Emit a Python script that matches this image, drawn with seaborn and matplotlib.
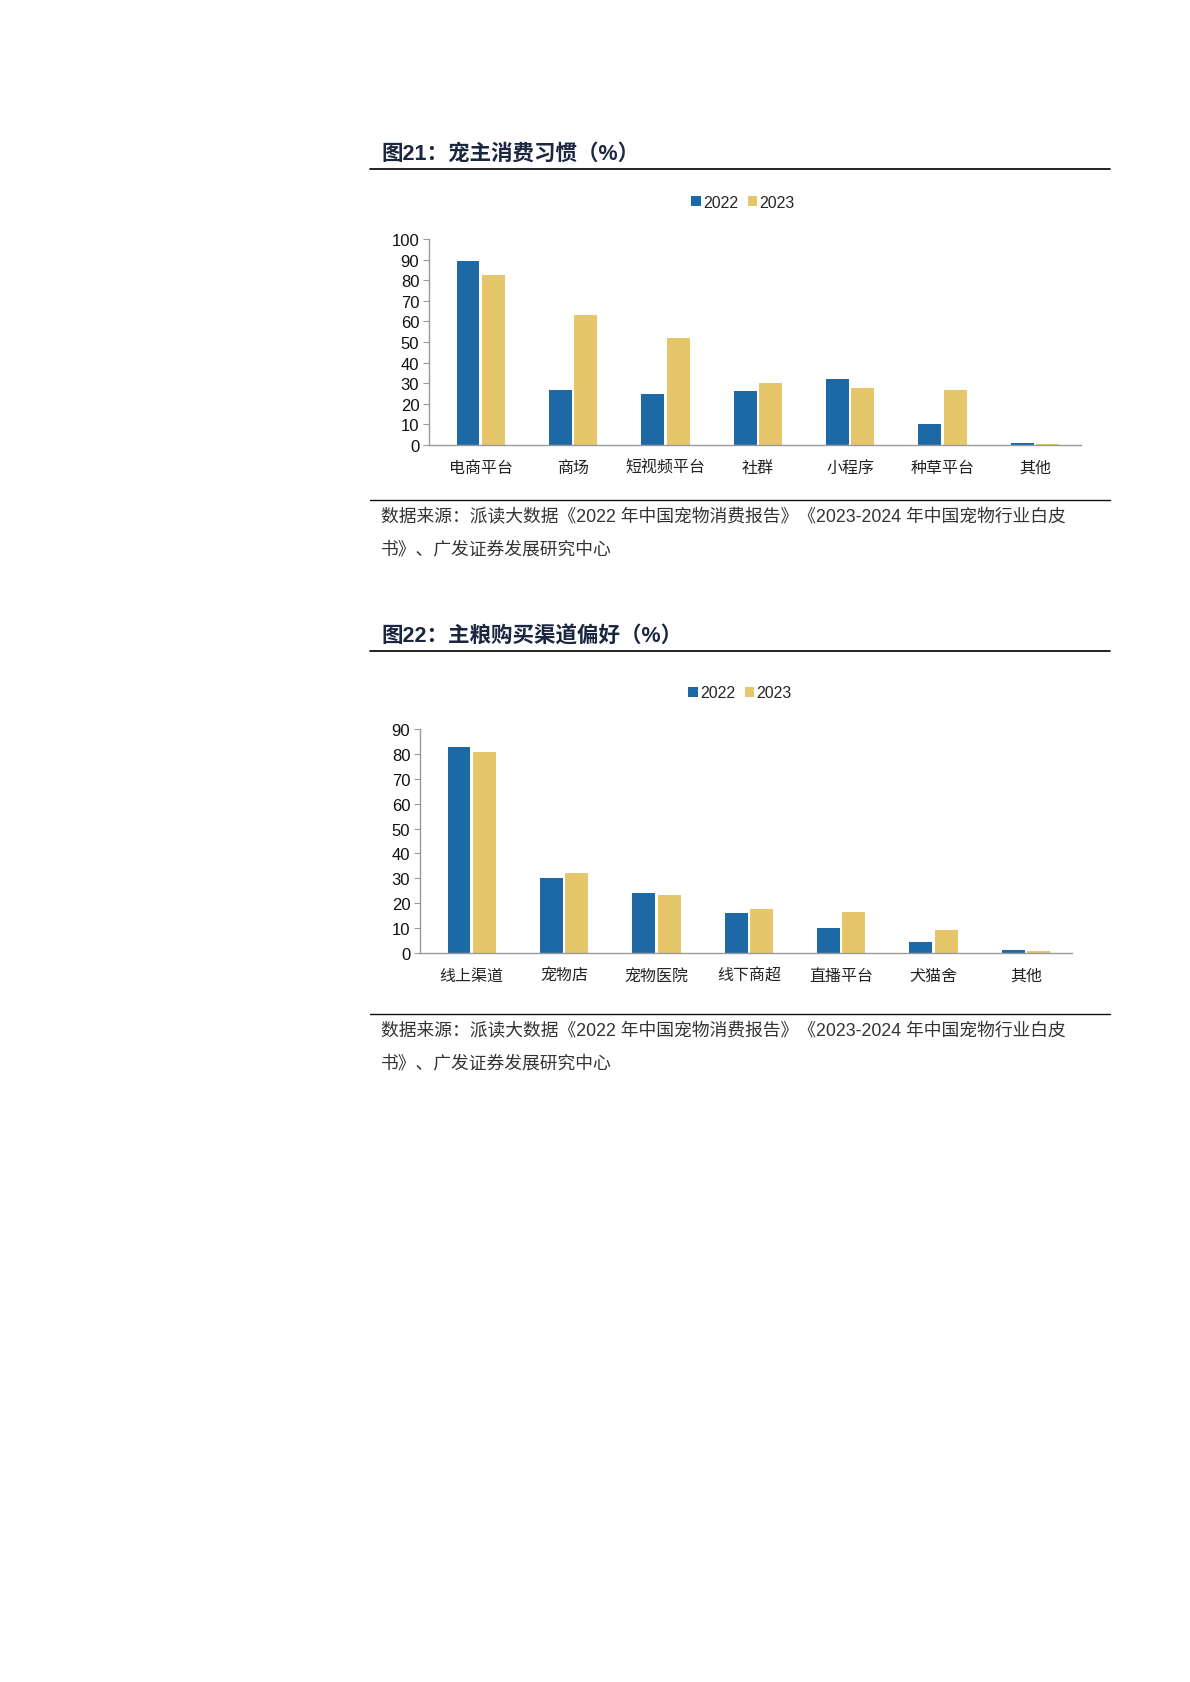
import matplotlib
matplotlib.use("Agg")
import matplotlib.pyplot as plt
import seaborn as sns
import pandas as pd
from matplotlib.lines import Line2D
from matplotlib.patches import Patch

# ---------------- data ----------------
years = ["2022", "2023"]

cats1 = ["电商平台", "商场", "短视频平台", "社群", "小程序", "种草平台", "其他"]
vals1_2022 = [89.5, 26.5, 25.0, 26.0, 32.0, 10.4, 1.1]
vals1_2023 = [82.7, 63.1, 51.8, 30.2, 27.7, 26.8, 0.5]

cats2 = ["线上渠道", "宠物店", "宠物医院", "线下商超", "直播平台", "犬猫舍", "其他"]
vals2_2022 = [82.9, 30.3, 24.0, 15.9, 10.0, 4.6, 1.3]
vals2_2023 = [80.9, 32.0, 23.4, 17.5, 16.3, 9.4, 0.7]

title1 = "图21：宠主消费习惯（%）"
title2 = "图22：主粮购买渠道偏好（%）"
source_l1 = "数据来源：派读大数据《2022 年中国宠物消费报告》《2023-2024 年中国宠物行业白皮"
source_l2 = "书》、广发证券发展研究中心"

yticks1 = [0, 10, 20, 30, 40, 50, 60, 70, 80, 90, 100]
yticks2 = [0, 10, 20, 30, 40, 50, 60, 70, 80, 90]

colors = {"2022": "#1C69A6", "2023": "#E5C66A"}

# ---------------- style ----------------
sns.set_theme(style="white")
plt.rcParams["font.family"] = ["Liberation Sans", "Noto Sans CJK SC", "DejaVu Sans"]
CJK = ["Noto Sans CJK SC", "DejaVu Sans"]
MIX = ["Liberation Sans", "Noto Sans CJK SC", "DejaVu Sans"]

W, H = 1190, 1683
fig = plt.figure(figsize=(W / 100, H / 100), dpi=100)
fig.patch.set_facecolor("white")


def fx(px):
    return px / W


def fy(py):
    return 1 - py / H


def make_df(cats, v22, v23):
    rows = []
    for c, a, b in zip(cats, v22, v23):
        rows.append({"cat": c, "year": "2022", "val": a})
        rows.append({"cat": c, "year": "2023", "val": b})
    return pd.DataFrame(rows)


def draw_panel(cats, v22, v23, yticks, ymax, box, title, title_y, line_y,
               legend_xy, sep_y, src_y1, src_y2):
    left, right, top, bottom = box
    ax = fig.add_axes([fx(left), fy(bottom), fx(right - left), (bottom - top) / H])
    df = make_df(cats, v22, v23)
    sns.barplot(data=df, x="cat", y="val", hue="year", hue_order=years,
                palette=colors, width=0.55, gap=0.1, saturation=1,
                edgecolor="none", linewidth=0, ax=ax, legend=False)
    ax.set_xlim(-0.56, 6.5)
    ax.set_ylim(0, ymax)
    ax.set_yticks(yticks)
    ax.set_xlabel("")
    ax.set_ylabel("")
    for s in ["top", "right"]:
        ax.spines[s].set_visible(False)
    for s in ["left", "bottom"]:
        ax.spines[s].set_color("#9a9a9a")
        ax.spines[s].set_linewidth(1.0)
    ax.tick_params(axis="y", length=4, width=0.8, color="#9a9a9a",
                   labelsize=12, pad=3, left=True, direction="out")
    ax.tick_params(axis="x", length=0, pad=10)
    ax.set_xticks(range(len(cats)))
    ax.set_xticklabels(cats, fontfamily=CJK, fontsize=11.5, color="#222222")
    for lab in ax.get_yticklabels():
        lab.set_fontfamily(MIX)
        lab.set_color("#111111")
    ax.patch.set_alpha(0)

    # legend
    handles = [Patch(facecolor=colors[y], edgecolor="none", label=y) for y in years]
    fig.legend(handles=handles, loc="center",
               bbox_to_anchor=(fx(legend_xy[0]), fy(legend_xy[1])),
               ncol=2, frameon=False, handlelength=0.6,
               handleheight=0.6, handletextpad=0.15, columnspacing=0.6,
               prop={"family": MIX, "size": 11.5})

    # title + rules
    fig.text(fx(381), fy(title_y), title, fontsize=15.5, fontweight="heavy",
             color="#1b2740", fontfamily=MIX, va="center", ha="left")
    fig.add_artist(Line2D([fx(370), fx(1110)], [fy(line_y), fy(line_y)],
                          color="#111111", linewidth=1.3))
    fig.add_artist(Line2D([fx(370), fx(1110)], [fy(sep_y), fy(sep_y)],
                          color="#111111", linewidth=1.0))
    fig.text(fx(381), fy(src_y1), source_l1, fontsize=12.8, color="#333333",
             fontfamily=MIX, va="center", ha="left")
    fig.text(fx(381), fy(src_y2), source_l2, fontsize=12.8, color="#333333",
             fontfamily=MIX, va="center", ha="left")
    return ax


draw_panel(cats1, vals1_2022, vals1_2023, yticks1, 100,
           (429, 1081, 240, 446), title1, 154, 170, (743, 203), 501, 518, 550)
draw_panel(cats2, vals2_2022, vals2_2023, yticks2, 90,
           (420, 1072, 730, 954), title2, 637, 652, (740, 694), 1015, 1032, 1064)

fig.savefig("out.png", dpi=100, facecolor="white")
